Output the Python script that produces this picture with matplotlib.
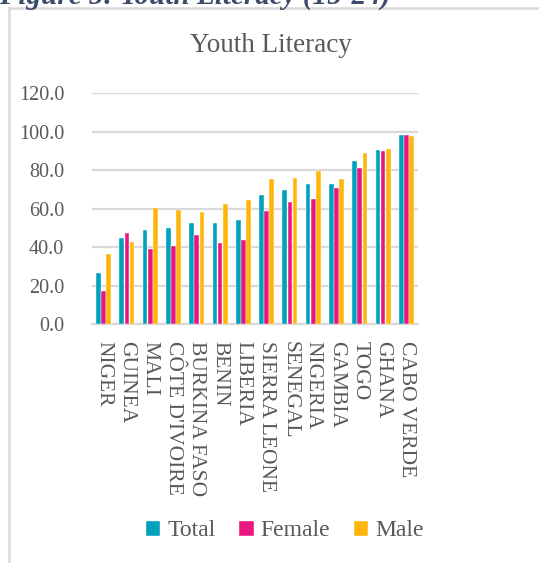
import matplotlib.pyplot as plt
import numpy as np
from matplotlib.lines import Line2D

countries = ["NIGER", "GUINEA", "MALI", "CÔTE D'IVOIRE", "BURKINA FASO", "BENIN",
             "LIBERIA", "SIERRA LEONE", "SENEGAL", "NIGERIA", "GAMBIA", "TOGO",
             "GHANA", "CABO VERDE"]
total = [26.5, 45.0, 49.2, 50.2, 52.5, 52.5, 54.3, 67.2, 69.8, 72.7, 72.9, 85.0, 90.4, 98.3]
female = [17.3, 47.4, 39.1, 40.7, 46.6, 42.4, 43.8, 58.9, 63.5, 65.1, 70.8, 81.2, 89.9, 98.3]
male = [36.5, 42.7, 60.4, 59.6, 58.2, 62.5, 64.6, 75.6, 76.0, 79.8, 75.5, 88.8, 91.1, 97.8]
yticks = [0, 20, 40, 60, 80, 100, 120]

series = [("Total", total, "#00A1BA"),
          ("Female", female, "#E91680"),
          ("Male", male, "#FFB60A")]

plt.rcParams['font.family'] = ['Liberation Serif', 'DejaVu Serif']
txt = "#595959"
grid_c = "#D9D9D9"

W, H = 539, 563
fig = plt.figure(figsize=(W / 100, H / 100), dpi=100)
ax = fig.add_axes([92 / W, 1 - 324.3 / H, (418 - 92) / W, (324.3 - 93.3) / H])

x = np.arange(len(countries))
bw = 0.2
for i, (name, vals, col) in enumerate(series):
    ax.bar(x + (i - 1) * 0.22, vals, bw, color=col, label=name,
           edgecolor="white", linewidth=0.3, zorder=3)

ax.set_ylim(0, 120)
ax.set_xlim(-0.5, len(countries) - 0.5)
ax.set_yticks(yticks)
ax.set_yticklabels([f"{v:.1f}" for v in yticks], fontsize=14.5, color=txt)
ax.set_xticks(x)
ax.set_xticklabels(countries, rotation=270, fontsize=15.5, color=txt,
                   va="top", ha="center")
ax.tick_params(axis="both", length=0)
ax.tick_params(axis="y", pad=20)
ax.tick_params(axis="x", pad=12)
ax.yaxis.grid(True, color=grid_c, linewidth=1.6, zorder=0)
for s in ["top", "right", "left"]:
    ax.spines[s].set_visible(False)
ax.spines["bottom"].set_color(grid_c)
ax.spines["bottom"].set_linewidth(1.6)
ax.set_axisbelow(True)

# chart frame (top and left edges)
fig.add_artist(Line2D([8.5 / W, 1.0], [1 - 8 / H, 1 - 8 / H], color=grid_c, linewidth=1.8))
fig.add_artist(Line2D([8.5 / W, 8.5 / W], [0, 1 - 8 / H], color=grid_c, linewidth=1.8))

fig.text(271 / W, 1 - 45 / H, "Youth Literacy", fontsize=19.5, color=txt,
         ha="center", va="center")

fig.text(-1 / W, 1 - 4 / H, "Figure 5: Youth Literacy (15-24)", fontsize=21,
         fontweight="bold", fontstyle="italic", color="#3B4B69",
         ha="left", va="baseline")

fig.legend(loc="center", bbox_to_anchor=(285 / W, 1 - 531 / H), ncol=3,
           frameon=False, fontsize=17, labelcolor=txt, handlelength=0.6,
           handleheight=0.6, handletextpad=0.3, columnspacing=1.0)

fig.savefig("out.png", dpi=100)
